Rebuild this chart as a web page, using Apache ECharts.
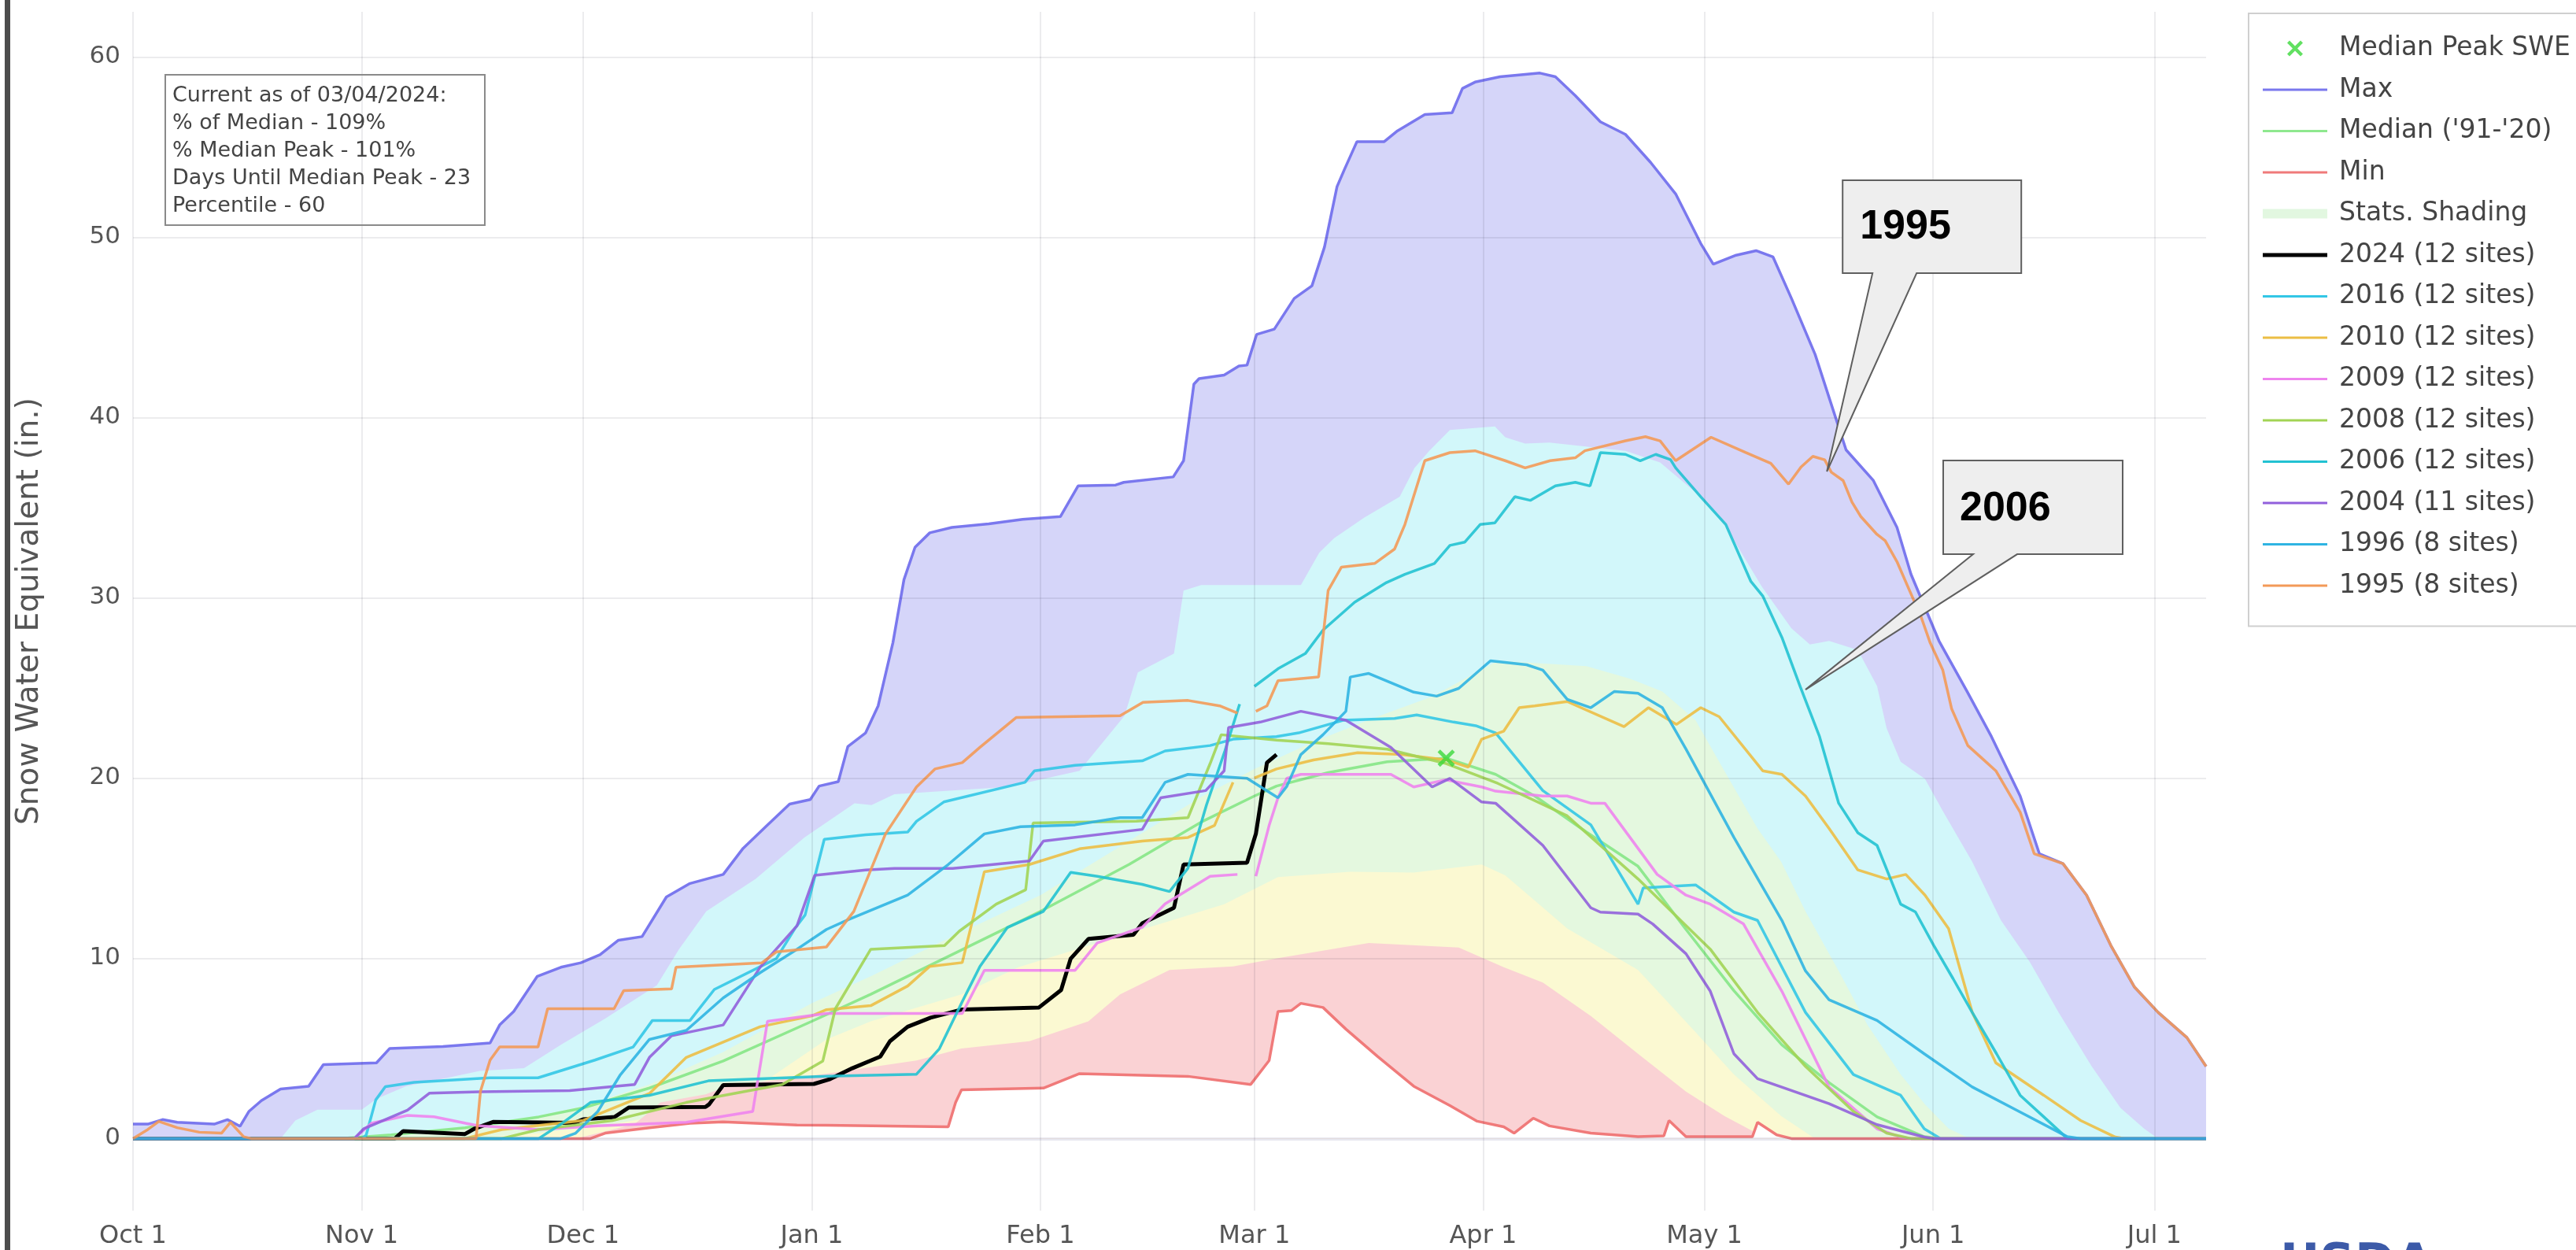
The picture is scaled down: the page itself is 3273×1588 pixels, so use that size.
<!DOCTYPE html>
<html>
<head>
<meta charset="utf-8">
<script src="https://cdn.jsdelivr.net/npm/echarts@6/dist/echarts.min.js"></script>
<style>
  html, body { margin: 0; padding: 0; background: #ffffff; }
  #chart { width: 3273px; height: 1588px; }
</style>
</head>
<body>
<div id="chart"></div>
<script>
// Day index 0 = Oct 1 of water year 2024 (leap year: Feb has 29 days).
const monthStartDays = [0, 31, 61, 92, 123, 152, 183, 213, 244, 274];
const monthTickLabels = ['Oct 1', 'Nov 1', 'Dec 1', 'Jan 1', 'Feb 1', 'Mar 1', 'Apr 1', 'May 1', 'Jun 1', 'Jul 1'];
const sweTickValues = [0, 10, 20, 30, 40, 50, 60];

const infoLines = [
  'Current as of 03/04/2024:',
  '% of Median - 109%',
  '% Median Peak - 101%',
  'Days Until Median Peak - 23',
  'Percentile - 60'
];

// Snow water equivalent (in.) as [day, value] pairs.
const maxSwe = [[0,0.8],[2,0.8],[4,1.05],[6,0.9],[11,0.8],[12.8,1.05],[14.5,0.68],[15.7,1.5],[17.4,2.1],[20,2.75],[23.8,2.9],[25.8,4.1],[33,4.2],[34.8,5.0],[42,5.1],[48.4,5.3],[49.7,6.3],[51.6,7.05],[54.8,9.0],[58,9.5],[60.7,9.75],[63.3,10.2],[65.8,11.0],[69,11.2],[72.3,13.4],[75.5,14.15],[80,14.65],[82.7,16.1],[85.9,17.35],[89,18.55],[91.8,18.8],[93,19.55],[95.6,19.8],[96.9,21.75],[99.3,22.5],[101,24.0],[103,27.5],[104.5,31.0],[106,32.8],[108,33.6],[111,33.9],[116,34.1],[120.6,34.35],[125.7,34.5],[128.1,36.2],[133.2,36.25],[134.3,36.4],[141,36.7],[142.4,37.6],[143.8,41.85],[144.5,42.15],[147.9,42.35],[149.9,42.85],[151,42.9],[152.3,44.6],[154.7,44.9],[157.4,46.6],[159.8,47.3],[161.5,49.45],[163.2,52.8],[164.2,53.75],[165.9,55.3],[169.6,55.3],[171.4,55.9],[175.1,56.8],[178.8,56.9],[180.2,58.25],[181.9,58.6],[185.3,58.9],[190.7,59.1],[192.8,58.9],[195.5,57.85],[198.9,56.4],[202.3,55.7],[205.7,54.15],[209.1,52.4],[212.5,49.65],[214.2,48.5],[217.3,49.0],[220,49.25],[222.3,48.9],[224.8,46.6],[228,43.5],[232.2,38.2],[235.9,36.5],[239.1,33.9],[241,31.3],[244.8,27.6],[248.6,24.8],[251.9,22.3],[255.8,19.0],[258.4,15.8],[261.6,15.25],[264.8,13.5],[268.1,10.7],[271.3,8.4],[274.5,7.0],[278.4,5.6],[281,4.0]];

const minSwe = [[0,0],[62,0],[64,0.3],[70,0.6],[75.5,0.85],[80,0.92],[90,0.75],[94,0.74],[110.5,0.65],[111.5,2.0],[112.3,2.7],[123.4,2.8],[128.3,3.6],[143,3.45],[151.5,3.0],[154,4.33],[155.2,7.05],[157,7.1],[158.3,7.5],[161.3,7.27],[164.4,6.07],[168.7,4.55],[173.6,2.9],[178.5,1.83],[182.2,0.96],[185.8,0.65],[187.2,0.3],[189.8,1.13],[192,0.7],[197.6,0.3],[204,0.1],[207.5,0.15],[208.2,1.0],[210.5,0.1],[219.5,0.1],[220.2,0.9],[222.8,0.2],[224.8,0],[281,0]];

const medianSwe = [[0,0],[28,0],[35,0.2],[45,0.6],[55,1.2],[61,1.7],[70,2.8],[80,4.3],[92,6.5],[100,8.0],[110,10.0],[123,12.6],[135,15.2],[145,17.6],[152,19.0],[155,19.55],[162,20.3],[170,20.9],[178,21.1],[184.7,20.2],[190,19.0],[197,17.0],[204,15.1],[210.5,11.6],[217,8.2],[223.5,5.2],[229.9,3.1],[236.4,1.2],[242.8,0.1],[245,0],[281,0]];

// Percentile band edges
const pct90 = [[0,0],[20,0],[22,1.0],[25,1.6],[31,1.6],[33,2.2],[37,2.9],[43,3.4],[47,3.75],[53,3.9],[58,5.2],[64,6.65],[71,8.5],[74,10.5],[77.7,12.6],[84.4,14.4],[91,16.7],[97.8,18.6],[100.1,18.5],[103.2,19.1],[118.5,19.5],[128.3,20.4],[134.4,23.45],[136.2,25.85],[141.1,26.9],[142.4,30.4],[144.8,30.7],[158.3,30.7],[160.8,32.5],[162.8,33.3],[166.9,34.45],[171.7,35.6],[173.7,37.2],[175.7,38.15],[178.5,39.3],[184.6,39.5],[186,38.9],[188.7,38.55],[192,38.6],[202.3,38.15],[207,37.5],[212.5,35.6],[215.8,34.0],[220.8,30.6],[224.8,28.3],[227.3,27.4],[229.9,27.6],[233.8,27.1],[236.4,25.1],[237.7,22.75],[239.6,20.9],[242.9,19.95],[245.4,18.1],[249.3,15.35],[253.2,12.1],[257.1,9.8],[261,7.0],[265.5,4.0],[269.4,1.7],[272.6,0.55],[274.5,0],[281,0]];
const pct70 = [[0,0],[30,0],[40,0.3],[50,0.8],[61,1.8],[70,3.0],[80,4.8],[92,7.5],[100,9.0],[110,11.0],[123,13.5],[135,16.5],[145,19.0],[152,20.5],[160,22.0],[168,23.3],[176,24.5],[185,26.5],[197,26.2],[203,25.5],[207.3,24.8],[211.8,23.2],[215.7,20.4],[220.2,17.2],[223.4,15.35],[226.7,12.6],[231.2,9.3],[235.1,6.3],[239.6,3.55],[242.9,1.9],[246.1,0.55],[249,0],[281,0]];
const pct30 = [[0,0],[45,0],[55,0.3],[65,0.8],[75,1.5],[85,3.0],[94,5.5],[100,6.5],[112.3,8.0],[120,9.5],[130.7,10.85],[140,12.0],[147.9,13.0],[155.2,14.5],[165,14.8],[173.6,14.75],[182.8,15.2],[186,14.6],[190,13.2],[194.4,11.65],[204,9.35],[211.8,5.9],[217,3.55],[223.4,1.25],[228,0],[281,0]];
const pct10 = [[0,0],[60,0],[68,0.8],[71.5,2.0],[77.6,2.45],[80.6,2.9],[94,3.6],[106.2,4.33],[112.3,5.0],[121.5,5.4],[129.5,6.5],[133.8,8.0],[140.5,9.35],[149.1,9.55],[155.2,10.0],[167.5,10.85],[179.7,10.6],[185.8,9.5],[191.1,8.65],[197.6,6.8],[204,4.7],[210.5,2.6],[215.7,1.25],[220.5,0.2],[223,0],[281,0]];

const swe2024 = [[0,0],[35.5,0],[36.6,0.41],[45,0.25],[46.3,0.55],[48.8,0.92],[59.8,0.87],[61,1.06],[65.3,1.2],[67.2,1.72],[77.6,1.75],[78.1,1.9],[80,2.96],[92.3,3.03],[94.5,3.3],[97.5,3.9],[101.3,4.55],[102.6,5.4],[105,6.2],[108.1,6.7],[112.4,7.16],[122.8,7.27],[125.8,8.24],[127.1,9.98],[129.5,11.07],[135.6,11.3],[136.8,11.94],[141.1,12.8],[142.4,15.2],[151,15.3],[152.2,16.9],[153.7,20.85],[155,21.3]];

const swe2016 = [[0,0],[31,0],[31.6,0.18],[32.9,2.14],[34.2,2.88],[38.1,3.12],[48.4,3.37],[54.9,3.37],[62.6,4.35],[67.8,5.08],[70.4,6.55],[75.5,6.55],[78.8,8.27],[87.2,9.98],[89.8,11.7],[91.1,12.4],[93.7,16.6],[99.3,16.85],[105,17.0],[106.2,17.6],[109.9,18.67],[120.9,19.76],[122.2,20.4],[127.7,20.7],[136.8,20.95],[139.9,21.5],[146,21.8],[149.1,22.15],[155,22.3],[158,22.5],[164,23.2],[171,23.3],[174,23.5],[179,23.1],[182,22.9],[184.7,22.5],[191.1,19.3],[197.6,17.4],[204,13.0],[204.7,13.9],[211.8,14.07],[217,12.56],[220.2,12.1],[226.7,7.0],[233.2,3.55],[239.6,2.4],[242.8,0.54],[245,0],[281,0]];

const swe2010 = [[0,0],[45,0],[50,0.5],[61,1.0],[70,2.5],[75,4.5],[85,6.2],[92,6.8],[94,7.15],[100,7.37],[105,8.46],[108,9.55],[112.4,9.76],[115.4,14.8],[121.5,15.2],[128.3,16.07],[136.8,16.5],[143,16.7],[146.6,17.37],[149.1,19.76],[151,null],[152,20.0],[155,20.5],[160,21.0],[166,21.4],[172,21.3],[178,21.0],[181,20.6],[182.8,22.15],[185.8,22.6],[187.9,23.9],[190,24.0],[194.4,24.24],[202.1,22.85],[205.4,23.9],[209.2,22.97],[212.5,23.9],[215,23.4],[220.9,20.4],[223.5,20.2],[226.7,19.0],[229.9,17.2],[233.8,14.9],[237.7,14.4],[240.3,14.65],[242.9,13.5],[246.1,11.64],[249.3,7.0],[252.5,4.2],[259,2.4],[264,1.0],[268.7,0.08],[270,0],[281,0]];

const swe2009 = [[0,0],[30,0],[32.3,0.85],[37.2,1.28],[40.8,1.21],[45.1,0.85],[47,0.7],[55,0.5],[63,0.7],[75,0.9],[84,1.5],[86,6.5],[94,6.94],[112.4,6.94],[115.4,9.33],[127.7,9.33],[130.7,10.85],[136.8,11.72],[139.9,13.02],[146,14.55],[149.7,14.65],[151,null],[152.2,14.55],[154,17.37],[155.2,18.9],[156.4,19.98],[158.3,20.2],[170.5,20.2],[173.6,19.5],[177.9,19.9],[182.8,19.5],[184.7,19.27],[191.1,19.0],[194.4,19.0],[197.6,18.6],[199.5,18.6],[206.6,14.65],[210.5,13.5],[213.8,13.0],[218.3,11.9],[223.5,8.17],[229.9,2.85],[236.4,0.54],[239.6,0.08],[241,0],[281,0]];

const swe2008 = [[0,0],[50,0],[55,0.5],[65,1.0],[75,2.0],[88,3.0],[93.5,4.3],[95.2,7.2],[100,10.5],[110,10.7],[112,11.5],[117,13.0],[121,13.8],[122,17.5],[136,17.6],[143,17.8],[146,20.8],[147.5,22.4],[155,22.1],[162,21.9],[170,21.6],[178,20.8],[185,19.7],[194.4,17.9],[204,14.4],[213.8,10.5],[220.2,7.0],[226.7,4.0],[233.2,1.5],[237.7,0.3],[241,0],[281,0]];

const swe2006 = [[0,0],[55,0],[58,0.8],[62,2.0],[70,2.4],[78,3.2],[94,3.46],[106.2,3.57],[109.3,4.98],[112.4,7.59],[114.8,9.55],[118.5,11.7],[123.4,12.6],[127.1,14.76],[130.7,14.55],[136.8,14.1],[140.5,13.7],[143,15.0],[145.5,18.5],[148,21.5],[150,24.1],[151,null],[152,25.08],[155.2,26.06],[158.9,26.9],[161.3,28.2],[165.6,29.75],[169.9,30.84],[172.4,31.3],[176.4,31.9],[178.5,32.9],[180.5,33.08],[182.6,34.06],[184.6,34.15],[187.3,35.6],[189.4,35.4],[192.8,36.2],[195.5,36.4],[197.5,36.2],[198.9,38.05],[202.3,37.95],[204.3,37.6],[206.4,37.95],[208.4,37.66],[209.1,37.2],[212.5,35.6],[215.9,34.06],[219.3,30.9],[220.9,30.1],[223.5,27.8],[226,25.05],[228.6,22.3],[231.2,18.6],[233.8,16.96],[236.4,16.26],[239.6,13.0],[241.6,12.57],[244.1,10.7],[246.7,8.87],[249.3,7.0],[252.6,4.7],[255.8,2.4],[259,1.2],[262.2,0],[281,0]];

const swe2004 = [[0,0],[30,0],[31.3,0.55],[37.2,1.57],[40.2,2.52],[47,2.59],[59.2,2.66],[68,3.0],[70,4.5],[73,5.7],[80,6.3],[85,9.5],[90,11.8],[92.4,14.6],[99.3,14.9],[103.2,14.98],[111.1,14.98],[121.5,15.4],[123.4,16.5],[136.8,17.15],[139.3,18.9],[145.4,19.3],[147.9,20.4],[148.5,22.8],[152.8,23.1],[158.3,23.7],[164.4,23.2],[170.5,21.7],[176.1,19.5],[178.5,19.98],[182.8,18.67],[184.7,18.6],[191.1,16.26],[197.6,12.8],[198.9,12.56],[204,12.45],[206,11.9],[210.5,10.25],[213.8,8.17],[217,4.7],[220.2,3.32],[223.5,2.85],[229.9,1.93],[236.4,0.77],[242.8,0.08],[244,0],[281,0]];

const swe1996 = [[0,0],[58,0],[60,0.3],[63,1.5],[66,3.5],[70,5.5],[75,6.0],[80,7.8],[85,9.2],[90,10.5],[94,11.6],[97,12.15],[105,13.5],[110.5,15.2],[115.4,16.9],[120.3,17.3],[127.7,17.4],[133.8,17.8],[136.8,17.8],[139.9,19.76],[143,20.2],[151,19.98],[155.2,18.9],[156.4,19.54],[158.3,21.3],[161.3,22.4],[164.4,23.7],[165,25.6],[167.5,25.8],[173.6,24.76],[176.7,24.54],[179.7,24.97],[184,26.5],[188.9,26.28],[191.1,25.98],[194.4,24.36],[197.6,23.9],[200.8,24.8],[204,24.7],[207.3,23.9],[210.5,21.6],[217,16.7],[223.5,12.1],[226.7,9.3],[229.9,7.7],[236.4,6.55],[242.8,4.7],[249.3,2.86],[255.8,1.47],[262.2,0.1],[264,0],[281,0]];

const swe1995 = [[0,0],[2,0.5],[3.5,0.95],[6,0.6],[9,0.35],[12,0.3],[13.2,0.9],[15,0.1],[16,0],[46.5,0],[47.1,2.63],[48.4,4.35],[49.7,5.08],[54.9,5.08],[56.2,7.2],[65.2,7.2],[66.5,8.2],[73,8.3],[73.6,9.5],[85.2,9.74],[87.2,10.35],[94,10.63],[97.7,12.6],[102,16.9],[106.2,19.5],[108.7,20.5],[112.4,20.85],[114.8,21.7],[119.7,23.35],[133.8,23.45],[136.9,24.2],[143,24.3],[147.3,24.0],[149.7,23.6],[151,null],[152.2,23.7],[153.7,24.0],[155.2,25.4],[160.7,25.6],[162,30.4],[163.8,31.7],[168.3,31.9],[171,32.7],[172.4,34.06],[175.1,37.6],[178.5,38.05],[181.9,38.15],[186,37.6],[188.7,37.2],[192.1,37.6],[195.5,37.76],[196.8,38.15],[202.3,38.7],[205,38.93],[207,38.7],[209.1,37.6],[213.9,38.9],[218.6,38.05],[222,37.45],[224.4,36.3],[226.1,37.25],[227.7,37.84],[229.3,37.65],[230.2,36.96],[231.8,36.5],[233,35.3],[234.2,34.5],[236.3,33.55],[237.5,33.16],[239.1,32.0],[240.8,30.4],[242.4,28.9],[243.6,27.5],[245.3,26.0],[246.5,23.85],[248.7,21.8],[250.6,21.1],[252.5,20.4],[255.8,18.1],[257.7,15.8],[261.6,15.25],[264.8,13.5],[268.1,10.7],[271.3,8.4],[274.5,7.0],[278.4,5.6],[281,4.0]];

const medianPeak = [[178, 21.1]];

// Callout anchors [day, value] with box/pointer offsets in px from the anchor
const callouts = [
  { label: '1995', at: [229.6, 37.0], box: [20, -370, 227, 118], base: [58, 114], text: [42, -310] },
  { label: '2006', at: [226.7, 24.9], box: [175, -291, 228, 119], base: [213, 269], text: [196, -229] }
];

const FONT = 'DejaVu Sans';
const chart = echarts.init(document.getElementById('chart'), null, { renderer: 'canvas' });

function bandSeries(name, data, fill) {
  return {
    name: name, type: 'line', data: data, symbol: 'none', silent: true, z: 1,
    lineStyle: { width: 0, opacity: 0 },
    areaStyle: { color: fill, opacity: 1 },
    itemStyle: { color: fill },
    animation: false
  };
}
function lineSeries(name, data, color, width, z, opacity) {
  return {
    name: name, type: 'line', data: data, symbol: 'none', showSymbol: false, z: z,
    connectNulls: false,
    lineStyle: { color: color, width: width, opacity: opacity == null ? 0.9 : opacity },
    itemStyle: { color: color },
    animation: false
  };
}

const xMark = 'path://M3,0 L10,7 L17,0 L20,3 L13,10 L20,17 L17,20 L10,13 L3,20 L0,17 L7,10 L0,3 Z';
const lineIcon = 'path://M0,0H82V3H0Z';
const thickLineIcon = 'path://M0,0H82V5H0Z';

// Grid lines drawn above the shaded bands, following the axis tick values
const gridMarks = monthStartDays.map(function (d) { return { xAxis: d }; })
  .concat(sweTickValues.filter(function (v) { return v !== 0; }).map(function (v) { return { yAxis: v }; }));

const option = {
  backgroundColor: '#ffffff',
  animation: false,
  grid: { left: 169, right: 470, top: 15, bottom: 50, containLabel: false, outerBoundsMode: 'none' },
  xAxis: {
    type: 'value', min: 0, max: 281,
    axisLine: { show: false, onZero: false },
    axisTick: { show: false, customValues: monthStartDays },
    axisLabel: {
      customValues: monthStartDays, margin: 17,
      fontFamily: FONT, fontSize: 32, color: '#555',
      formatter: function (v) { const i = monthStartDays.indexOf(v); return i >= 0 ? monthTickLabels[i] : ''; }
    },
    splitLine: { show: false }
  },
  yAxis: {
    type: 'value', min: -4, max: 62.5,
    name: 'Snow Water Equivalent (in.)', nameLocation: 'middle', nameGap: 112,
    nameTextStyle: { fontFamily: FONT, fontSize: 39, color: '#555' },
    axisLine: { show: false },
    axisTick: { show: false, customValues: sweTickValues },
    axisLabel: { customValues: sweTickValues, margin: 16, fontFamily: FONT, fontSize: 31, color: '#555' },
    splitLine: { show: false }
  },
  legend: {
    orient: 'vertical', left: 2857, top: 17,
    padding: [28, 60, 35, 18], itemGap: 19.5,
    itemWidth: 82, itemHeight: 20,
    backgroundColor: '#ffffff', borderColor: '#cfcfcf', borderWidth: 2,
    textStyle: { fontFamily: FONT, fontSize: 33, color: '#444', padding: [0, 0, 0, 10] },
    selectedMode: false,
    data: [
      { name: 'Median Peak SWE' },
      { name: 'Max', icon: lineIcon },
      { name: "Median ('91-'20)", icon: lineIcon },
      { name: 'Min', icon: lineIcon },
      { name: 'Stats. Shading', icon: 'path://M0,0H82V12H0Z', itemStyle: { color: '#e2f7e0' } },
      { name: '2024 (12 sites)', icon: thickLineIcon },
      { name: '2016 (12 sites)', icon: lineIcon },
      { name: '2010 (12 sites)', icon: lineIcon },
      { name: '2009 (12 sites)', icon: lineIcon },
      { name: '2008 (12 sites)', icon: lineIcon },
      { name: '2006 (12 sites)', icon: lineIcon },
      { name: '2004 (11 sites)', icon: lineIcon },
      { name: '1996 (8 sites)', icon: lineIcon },
      { name: '1995 (8 sites)', icon: lineIcon }
    ]
  },
  series: [
    // shaded bands, painted from the top band downward
    bandSeries('Max band', maxSwe, '#d5d5f9'),
    bandSeries('90th', pct90, '#d2f7fa'),
    bandSeries('Stats. Shading', pct70, '#e4f8df'),
    bandSeries('30th', pct30, '#fbf9d2'),
    bandSeries('10th', pct10, '#fad2d4'),
    bandSeries('Min band', minSwe, '#ffffff'),
    {
      name: 'grid', type: 'line', data: [], z: 2, silent: true, animation: false,
      markLine: {
        silent: true, symbol: 'none', label: { show: false }, animation: false,
        lineStyle: { type: 'solid', color: 'rgba(40,40,60,0.085)', width: 2 },
        data: gridMarks.concat([{ yAxis: 0, lineStyle: { color: 'rgba(90,90,150,0.14)', width: 4 } }])
      }
    },
    // statistics lines
    lineSeries('Max', maxSwe, '#7a78ee', 3.5, 3, 1),
    lineSeries("Median ('91-'20)", medianSwe, '#8fe88f', 3.5, 3, 1),
    lineSeries('Min', minSwe, '#f07a7a', 3.5, 3, 1),
    // water years
    lineSeries('2024 (12 sites)', swe2024, '#000000', 5, 4, 1),
    lineSeries('2016 (12 sites)', swe2016, '#33c6e6', 3.5, 4),
    lineSeries('2010 (12 sites)', swe2010, '#ecbe45', 3.5, 4),
    lineSeries('2009 (12 sites)', swe2009, '#ee84ee', 3.5, 4),
    lineSeries('2008 (12 sites)', swe2008, '#a2d455', 3.5, 4),
    lineSeries('2006 (12 sites)', swe2006, '#22c2d2', 3.5, 4),
    lineSeries('2004 (11 sites)', swe2004, '#9160dc', 3.5, 4),
    lineSeries('1996 (8 sites)', swe1996, '#2fb4e2', 3.5, 4),
    lineSeries('1995 (8 sites)', swe1995, '#f39a58', 3.5, 4),
    {
      name: 'Median Peak SWE', type: 'scatter', data: medianPeak, z: 6,
      symbol: xMark, symbolSize: 22, itemStyle: { color: '#3ad83a' }, animation: false
    }
  ]
};

chart.setOption(option);

// Info box, callouts and frame elements
const graphics = [];
graphics.push({
  type: 'rect', left: 6, top: 0, z: 100,
  shape: { width: 7, height: 1588 }, style: { fill: '#4d4d4d' }
});
graphics.push({
  type: 'rect', left: 209, top: 94, z: 100,
  shape: { width: 406, height: 191 },
  style: { fill: 'rgba(255,255,255,0)', stroke: '#8a8a8a', lineWidth: 2 }
});
graphics.push({
  type: 'text', left: 219, top: 104, z: 101,
  style: { text: infoLines.join('\n'), fontFamily: FONT, fontSize: 27, lineHeight: 35, fill: '#444' }
});
callouts.forEach(function (c) {
  const p = chart.convertToPixel({ gridIndex: 0 }, c.at);
  const tx = p[0], ty = p[1];
  const bx = tx + c.box[0], by = ty + c.box[1], bw = c.box[2], bh = c.box[3];
  graphics.push({
    type: 'polygon', z: 110,
    shape: { points: [[bx, by], [bx + bw, by], [bx + bw, by + bh], [tx + c.base[1], by + bh], [tx, ty], [tx + c.base[0], by + bh], [bx, by + bh]] },
    style: { fill: '#eeeeee', stroke: '#5f5f5f', lineWidth: 2 }
  });
  graphics.push({
    type: 'text', z: 111, x: tx + c.text[0], y: ty + c.text[1],
    style: { text: c.label, fontFamily: 'Liberation Sans', fontWeight: 'bold', fontSize: 52, fill: '#000', verticalAlign: 'middle' }
  });
});
graphics.push({
  type: 'text', left: 2897, top: 1577, z: 100,
  style: { text: 'USDA', fontFamily: FONT, fontWeight: 'bold', fontSize: 62, fill: '#3c5aa8' }
});
chart.setOption({ graphic: graphics });
</script>
</body>
</html>
